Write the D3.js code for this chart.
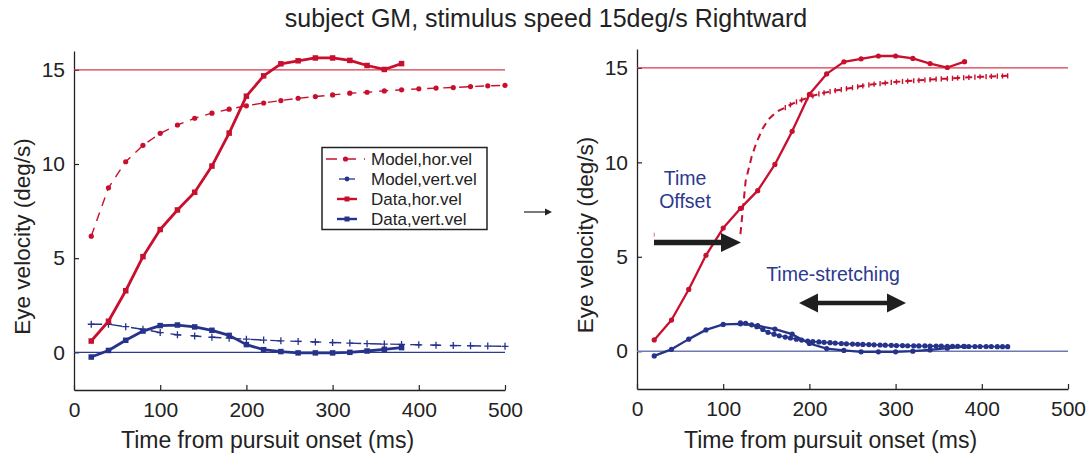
<!DOCTYPE html>
<html><head><meta charset="utf-8">
<script src="https://cdn.jsdelivr.net/npm/d3@7"></script>
<style>
body{margin:0;background:#fff;}
svg text{font-family:"Liberation Sans",Arial,Helvetica,sans-serif;}
</style></head>
<body><svg id="c" width="1092" height="455"></svg>
<script>
// ---- data ----
const title = "subject GM, stimulus speed 15deg/s Rightward";
const xTicks = [0, 100, 200, 300, 400, 500];
const yTicks = [0, 5, 10, 15];
const targetSpeed = 15;

const dataTime = [20,40,60,80,100,120,140,160,180,200,220,240,260,280,300,320,340,360,380];
const dataHor  = [0.6,1.65,3.27,5.08,6.52,7.56,8.5,9.89,11.64,13.6,14.68,15.32,15.48,15.63,15.63,15.5,15.23,15.02,15.33];
const dataVert = [-0.25,0.1,0.64,1.13,1.42,1.45,1.35,1.17,0.9,0.41,0.14,0.04,-0.03,-0.03,-0.03,0.0,0.07,0.16,0.25];

const modelTime = [20,40,60,80,100,120,140,160,180,200,220,240,260,280,300,320,340,360,380,400,420,440,460,480,500];
const modelHor  = [6.17,8.74,10.12,10.99,11.63,12.07,12.43,12.7,12.91,13.09,13.24,13.37,13.49,13.58,13.67,13.76,13.81,13.88,13.94,13.99,14.03,14.06,14.11,14.15,14.18];
const modelVert = [1.49,1.49,1.36,1.22,1.05,0.93,0.87,0.8,0.75,0.7,0.65,0.61,0.58,0.55,0.52,0.49,0.46,0.44,0.42,0.4,0.38,0.36,0.35,0.33,0.32];

// fitted (offset + time-stretched) model, right panel
const fitTime = [120,126,133,139,146,152,159,165,172,178,185,191,198,204,211,217,224,230,237,243,250,256,262,269,275,282,288,295,301,308,314,321,327,334,340,347,353,360,366,372,379,385,392,398,405,411,418,424,430];
const fitHor  = [6.2,9.0,10.3,11.1,11.8,12.25,12.55,12.75,12.9,13.05,13.2,13.3,13.42,13.52,13.62,13.68,13.74,13.8,13.85,13.9,13.95,14.0,14.05,14.1,14.14,14.17,14.2,14.23,14.26,14.28,14.3,14.32,14.34,14.36,14.38,14.4,14.42,14.43,14.45,14.47,14.48,14.5,14.51,14.53,14.54,14.55,14.56,14.57,14.58];
const fitVert = [1.5,1.48,1.4,1.3,1.15,1.0,0.9,0.82,0.75,0.7,0.64,0.59,0.54,0.51,0.49,0.47,0.45,0.43,0.41,0.39,0.38,0.37,0.36,0.35,0.34,0.33,0.32,0.31,0.3,0.3,0.29,0.29,0.28,0.28,0.27,0.27,0.27,0.26,0.26,0.26,0.26,0.25,0.25,0.25,0.25,0.25,0.24,0.24,0.24];

const legendLabels = ["Model,hor.vel","Model,vert.vel","Data,hor.vel","Data,vert.vel"];

// ---- style ----
const RED = "#c8102e", BLUE = "#26338a", REFRED = "#d23a4e", REFBLUE = "#2b3a92";
const svg = d3.select("#c");

svg.append("text").attr("x", 546).attr("y", 27).attr("text-anchor","middle")
  .attr("font-size", 25).attr("fill","#222").text(title);

function panel(x0, x1, yTop, yBot, opts){
  const x = d3.scaleLinear().domain([0,500]).range([x0,x1]);
  const y = d3.scaleLinear().domain([-2,16]).range([yBot,yTop]);
  const g = svg.append("g");
  const ax = g.append("g").attr("transform",`translate(0,${yBot})`)
    .call(d3.axisBottom(x).tickValues(xTicks).tickSize(-5).tickPadding(12).tickSizeOuter(0));
  const ay = g.append("g").attr("transform",`translate(${x0},0)`)
    .call(d3.axisLeft(y).tickValues(yTicks).tickSize(-5).tickPadding(9).tickSizeOuter(0));
  [ax, ay].forEach(a => {
    a.select(".domain").attr("stroke","#222").attr("stroke-width",1.3);
    a.selectAll(".tick line").attr("stroke","#222").attr("stroke-width",1.2);
    a.selectAll(".tick text").attr("font-size",21).attr("fill","#222")
      .attr("font-family","'Liberation Sans',Arial,sans-serif");
  });
  g.append("text").attr("x",(x0+x1)/2-22).attr("y",448).attr("text-anchor","middle")
    .attr("font-size",23).attr("fill","#222").text("Time from pursuit onset (ms)");
  g.append("text").attr("transform",`translate(${x0-44},${(yTop+yBot)/2+16}) rotate(-90)`)
    .attr("text-anchor","middle").attr("font-size",22.5).attr("fill","#222").text("Eye velocity (deg/s)");
  g.append("line").attr("x1",x(0)).attr("x2",x(500)).attr("y1",y(targetSpeed)).attr("y2",y(targetSpeed))
    .attr("stroke",REFRED).attr("stroke-width",1.2);
  g.append("line").attr("x1",x(0)).attr("x2",x(500)).attr("y1",y(0)).attr("y2",y(0))
    .attr("stroke",opts.zeroColor).attr("stroke-width",opts.zeroWidth);
  return {g,x,y};
}

function drawLine(g, x, y, ts, vs, color, width, dash){
  const line = d3.line().x((d,i)=>x(ts[i])).y(d=>y(d)).curve(d3.curveLinear);
  const p = g.append("path").datum(vs).attr("d",line).attr("fill","none")
    .attr("stroke",color).attr("stroke-width",width).attr("stroke-linejoin","round");
  if(dash) p.attr("stroke-dasharray",dash);
  return p;
}
function dots(g,x,y,ts,vs,color,r){
  g.append("g").selectAll("circle").data(vs).join("circle")
    .attr("cx",(d,i)=>x(ts[i])).attr("cy",d=>y(d)).attr("r",r).attr("fill",color);
}
function squares(g,x,y,ts,vs,color,s){
  g.append("g").selectAll("rect").data(vs).join("rect")
    .attr("x",(d,i)=>x(ts[i])-s/2).attr("y",d=>y(d)-s/2).attr("width",s).attr("height",s).attr("fill",color);
}
function pluses(g,x,y,ts,vs,color,h){
  g.append("g").selectAll("path").data(vs).join("path")
    .attr("d",(d,i)=>`M${x(ts[i])-h},${y(d)}H${x(ts[i])+h}M${x(ts[i])},${y(d)-h}V${y(d)+h}`)
    .attr("stroke",color).attr("stroke-width",1.3).attr("fill","none");
}
function vticks(g,x,y,ts,vs,color,h){
  g.append("g").selectAll("path").data(vs).join("path")
    .attr("d",(d,i)=>`M${x(ts[i])},${y(d)-h}V${y(d)+h}`)
    .attr("stroke",color).attr("stroke-width",1.4).attr("fill","none");
}

// ---- left panel ----
const L = panel(74, 505, 51, 390, {zeroColor:REFBLUE, zeroWidth:1.2});
drawLine(L.g,L.x,L.y,modelTime,modelVert,BLUE,1.4,"11,9");
pluses(L.g,L.x,L.y,modelTime,modelVert,BLUE,3.5);
drawLine(L.g,L.x,L.y,modelTime,modelHor,RED,1.4,"9,7");
dots(L.g,L.x,L.y,modelTime,modelHor,RED,2.6);
drawLine(L.g,L.x,L.y,dataTime,dataVert,BLUE,2.8);
squares(L.g,L.x,L.y,dataTime,dataVert,BLUE,5.5);
drawLine(L.g,L.x,L.y,dataTime,dataHor,RED,2.8);
squares(L.g,L.x,L.y,dataTime,dataHor,RED,5.5);

// legend
const lg = svg.append("g");
lg.append("rect").attr("x",322).attr("y",147.5).attr("width",165).attr("height",82)
  .attr("fill","#fff").attr("stroke","#222").attr("stroke-width",1.5);
const legY = [159,179,199,219];
legendLabels.forEach((t,i)=>{
  lg.append("text").attr("x",371).attr("y",legY[i]+6).attr("font-size",17).attr("fill","#222").text(t);
});
lg.append("line").attr("x1",326).attr("x2",365).attr("y1",legY[0]).attr("y2",legY[0])
  .attr("stroke",RED).attr("stroke-width",1.3).attr("stroke-dasharray","11,8");
lg.append("circle").attr("cx",345.5).attr("cy",legY[0]).attr("r",2.6).attr("fill",RED);
lg.append("line").attr("x1",339).attr("x2",355).attr("y1",legY[1]).attr("y2",legY[1])
  .attr("stroke",BLUE).attr("stroke-width",1.3);
lg.append("circle").attr("cx",347).attr("cy",legY[1]).attr("r",2.4).attr("fill",BLUE);
lg.append("line").attr("x1",337).attr("x2",357).attr("y1",legY[2]).attr("y2",legY[2])
  .attr("stroke",RED).attr("stroke-width",2.4);
lg.append("rect").attr("x",344.5).attr("y",legY[2]-2.5).attr("width",5).attr("height",5).attr("fill",RED);
lg.append("line").attr("x1",337).attr("x2",357).attr("y1",legY[3]).attr("y2",legY[3])
  .attr("stroke",BLUE).attr("stroke-width",2.4);
lg.append("rect").attr("x",344.5).attr("y",legY[3]-2.5).attr("width",5).attr("height",5).attr("fill",BLUE);

// small arrow between panels
svg.append("line").attr("x1",524).attr("x2",546).attr("y1",212).attr("y2",212).attr("stroke","#222").attr("stroke-width",1.2);
svg.append("path").attr("d","M545,208.5L552,212L545,215.5Z").attr("fill","#222");

// ---- right panel ----
const R = panel(637, 1068, 49, 389, {zeroColor:"#6f78b2", zeroWidth:1.6});
drawLine(R.g,R.x,R.y,fitTime,fitVert,BLUE,1.6);
dots(R.g,R.x,R.y,fitTime,fitVert,BLUE,2.6);
drawLine(R.g,R.x,R.y,fitTime,fitHor,RED,2,"7,5");
vticks(R.g,R.x,R.y,fitTime.slice(8),fitHor.slice(8),RED,2.6);
R.g.append("line").attr("x1",R.x(modelTime[0])).attr("x2",R.x(modelTime[0]))
  .attr("y1",R.y(modelHor[0])-2).attr("y2",R.y(modelHor[0])+2).attr("stroke",RED).attr("stroke-width",1).attr("opacity",0.6);
drawLine(R.g,R.x,R.y,dataTime,dataVert,BLUE,2.3);
dots(R.g,R.x,R.y,dataTime,dataVert,BLUE,2.6);
drawLine(R.g,R.x,R.y,dataTime,dataHor,RED,2.3);
dots(R.g,R.x,R.y,dataTime,dataHor,RED,2.6);

// annotations
const ANN = "#2b3990";
svg.append("text").attr("x",685).attr("y",185).attr("text-anchor","middle").attr("font-size",19.5).attr("fill",ANN).text("Time");
svg.append("text").attr("x",685).attr("y",208).attr("text-anchor","middle").attr("font-size",19.5).attr("fill",ANN).text("Offset");
svg.append("text").attr("x",833).attr("y",281).attr("text-anchor","middle").attr("font-size",19.5).attr("fill",ANN).text("Time-stretching");
svg.append("line").attr("x1",654).attr("x2",723).attr("y1",242.5).attr("y2",242.5).attr("stroke","#1f1f1f").attr("stroke-width",5.5);
svg.append("path").attr("d","M721,233L741,242.5L721,252Z").attr("fill","#1f1f1f");
svg.append("line").attr("x1",815).attr("x2",890).attr("y1",303).attr("y2",303).attr("stroke","#1f1f1f").attr("stroke-width",4.5);
svg.append("path").attr("d","M799,303L818,293.5L818,312.5Z").attr("fill","#1f1f1f");
svg.append("path").attr("d","M906,303L887,293.5L887,312.5Z").attr("fill","#1f1f1f");
</script></body></html>
